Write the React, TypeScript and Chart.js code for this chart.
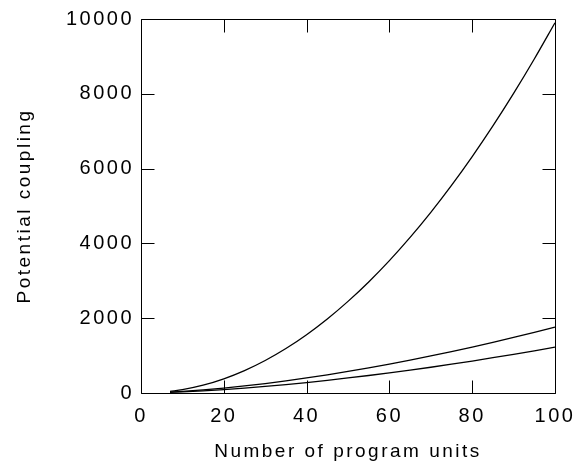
import React, { useEffect, useRef } from "react";
import { Chart, registerables } from "chart.js";

Chart.register(...registerables);

// Number of program units (x)
const programUnits = [7, 10, 15, 20, 25, 30, 35, 40, 45, 50, 55, 60, 65, 70, 75, 80, 85, 90, 95, 100];
// Upper curve (steep, ~quadratic)
const upperCoupling = [42, 90, 210, 380, 600, 870, 1190, 1560, 1980, 2450, 2970, 3540, 4160, 4830, 5550, 6320, 7140, 8010, 8930, 9900];
// Middle curve
const middleCoupling = [24, 43, 83, 131, 189, 253, 324, 402, 487, 577, 672, 773, 879, 990, 1107, 1228, 1355, 1485, 1620, 1760];
// Lower curve
const lowerCoupling = [17, 30, 58, 91, 131, 176, 226, 280, 339, 402, 468, 538, 612, 689, 770, 855, 943, 1034, 1128, 1225];

const xTickValues = [0, 20, 40, 60, 80, 100];
const yTickValues = [0, 2000, 4000, 6000, 8000, 10000];
const xTickLabels = ["0", "20", "40", "60", "80", "100"];
const yTickLabels = ["0", "2000", "4000", "6000", "8000", "10000"];

const xTitle = "Number of program units";
const yTitle = "Potential coupling";

const FONT_FAMILY = "'Liberation Sans', Arial, Helvetica, sans-serif";
const LETTER_SPACING = "2.5px";
const TICK_LEN = 13;

const framePlugin = {
  id: "frameTicks",
  beforeUpdate(chart: any) {
    chart.ctx.letterSpacing = LETTER_SPACING;
  },
  beforeLayout(chart: any) {
    chart.ctx.letterSpacing = LETTER_SPACING;
  },
  beforeDraw(chart: any) {
    chart.ctx.letterSpacing = LETTER_SPACING;
  },
  afterDraw(chart: any) {
    const { ctx, chartArea, scales } = chart;
    const l = Math.round(chartArea.left) + 0.5;
    const r = Math.round(chartArea.right) + 0.5;
    const t = Math.round(chartArea.top) + 0.5;
    const b = Math.round(chartArea.bottom) + 0.5;
    ctx.save();
    ctx.strokeStyle = "#000";
    ctx.lineWidth = 1;
    ctx.beginPath();
    ctx.rect(l, t, r - l, b - t);
    xTickValues.forEach((v) => {
      const x = Math.round(scales.x.getPixelForValue(v)) + 0.5;
      ctx.moveTo(x, b);
      ctx.lineTo(x, b - TICK_LEN);
      ctx.moveTo(x, t);
      ctx.lineTo(x, t + TICK_LEN);
    });
    yTickValues.forEach((v) => {
      const y = Math.round(scales.y.getPixelForValue(v)) + 0.5;
      ctx.moveTo(l, y);
      ctx.lineTo(l + TICK_LEN, y);
      ctx.moveTo(r, y);
      ctx.lineTo(r - TICK_LEN, y);
    });
    ctx.stroke();
    ctx.restore();
  },
};

function toPoints(ys: number[]) {
  return programUnits.map((x, i) => ({ x, y: ys[i] }));
}

export default function App() {
  const canvasRef = useRef<HTMLCanvasElement | null>(null);

  useEffect(() => {
    const canvas = canvasRef.current;
    if (!canvas) return;
    const lineStyle = {
      borderColor: "#000",
      borderWidth: 1.3,
      pointRadius: 0,
      fill: false,
      cubicInterpolationMode: "monotone" as const,
    };
    const tickFont = { family: FONT_FAMILY, size: 20 };
    const titleFont = { family: FONT_FAMILY, size: 19 };
    const chart = new Chart(canvas, {
      type: "line",
      data: {
        datasets: [
          { label: "upper", data: toPoints(upperCoupling), ...lineStyle },
          { label: "middle", data: toPoints(middleCoupling), ...lineStyle },
          { label: "lower", data: toPoints(lowerCoupling), ...lineStyle },
        ],
      },
      options: {
        responsive: false,
        animation: false,
        events: [],
        layout: { padding: { top: 19, right: 24, bottom: 0, left: 0 } },
        plugins: {
          legend: { display: false },
          tooltip: { enabled: false },
        },
        scales: {
          x: {
            type: "linear",
            min: 0,
            max: 100,
            afterFit: (s: any) => {
              s.height = 75;
              s.paddingLeft = 0;
              s.paddingRight = 0;
            },
            afterBuildTicks: (s: any) => {
              s.ticks = xTickValues.map((v) => ({ value: v }));
            },
            ticks: {
              color: "#000",
              font: tickFont,
              padding: 11.5,
              maxRotation: 0,
              autoSkip: false,
              callback: (v: any) => {
                const i = xTickValues.indexOf(Number(v));
                return i >= 0 ? xTickLabels[i] : "";
              },
            },
            grid: { display: false, drawTicks: false },
            border: { display: false },
            title: {
              display: true,
              text: xTitle,
              color: "#000",
              font: titleFont,
              padding: { top: 0, bottom: 5 },
            },
          },
          y: {
            type: "linear",
            min: 0,
            max: 10000,
            afterFit: (s: any) => {
              s.width = 141;
              s.paddingTop = 0;
              s.paddingBottom = 0;
            },
            afterBuildTicks: (s: any) => {
              s.ticks = yTickValues.map((v) => ({ value: v }));
            },
            ticks: {
              color: "#000",
              font: tickFont,
              padding: 7,
              autoSkip: false,
              callback: (v: any) => {
                const i = yTickValues.indexOf(Number(v));
                return i >= 0 ? yTickLabels[i] : "";
              },
            },
            grid: { display: false, drawTicks: false },
            border: { display: false },
            title: {
              display: true,
              text: yTitle,
              color: "#000",
              font: titleFont,
              padding: { top: 13, bottom: 0 },
            },
          },
        },
      },
      plugins: [framePlugin],
    });
    return () => chart.destroy();
  }, []);

  return (
    <div style={{ position: "fixed", left: 0, top: 0, width: 579, height: 468, background: "#fff" }}>
      <canvas ref={canvasRef} width={579} height={468} style={{ display: "block" }} />
    </div>
  );
}
